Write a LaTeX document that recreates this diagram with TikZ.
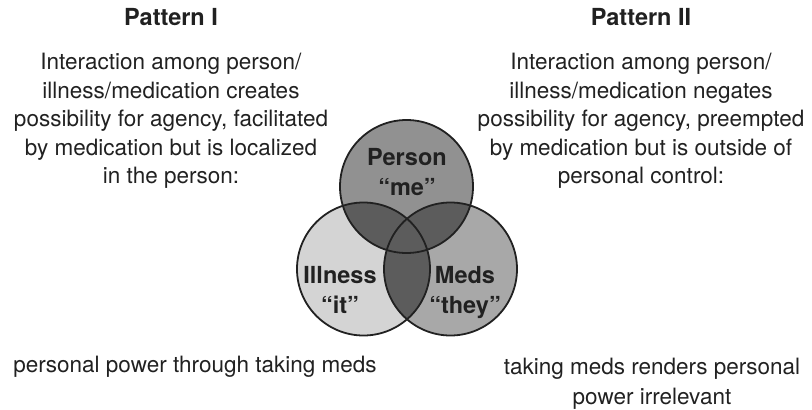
\documentclass[tikz,border=0pt]{standalone}
\usepackage{fontspec}
\setmainfont{TeX Gyre Heros}
\usetikzlibrary{positioning}
\definecolor{personfill}{gray}{0.57}
\definecolor{illnessfill}{gray}{0.83}
\definecolor{medsfill}{gray}{0.66}
\definecolor{overlapfill}{gray}{0.36}
\definecolor{inkcol}{gray}{0.13}
\newcommand{\vennr}{66.5pt}
\tikzset{title text/.style={inner sep=0pt,text=inkcol,font=\fontsize{23.5}{29}\selectfont\bfseries},
  body text/.style={inner sep=0pt,align=center,text=inkcol,font=\fontsize{22.5}{28.5}\selectfont},
  label text/.style={inner sep=0pt,align=center,text=inkcol,font=\fontsize{23.5}{30}\selectfont\bfseries},
  venn line/.style={draw=inkcol,line width=1.8pt} }

\begin{document}
\begin{tikzpicture}[x=1pt,y=-1pt]
\useasboundingbox (0,0) rectangle (812,410);

  \node[title text] (titleI) at (171,17.5) {Pattern I};
  \node[title text] (titleII) at (641,17.5) {Pattern II};

  \node[body text,anchor=north] (textI) [below = 27pt of titleI] {Interaction among person/\\illness/medication creates\\possibility for agency, facilitated\\by medication but is localized\\in the person:};
  \node[body text,anchor=north] (textII) [below = 27pt of titleII] {Interaction among person/\\illness/medication negates\\possibility for agency, preempted\\by medication but is outside of\\personal control:};

  % venn centres
  \coordinate (person) at (406.5,186.5);
  \coordinate[below left = 82.5pt and 43pt of person] (illness);
  \coordinate[below right = 82.5pt and 44pt of person] (meds);

  \fill[personfill] (person) circle (\vennr);
  \fill[illnessfill] (illness) circle (\vennr);
  \fill[medsfill] (meds) circle (\vennr);
  \begin{scope}
    \clip (person) circle (\vennr);
    \fill[overlapfill] (illness) circle (\vennr);
    \fill[overlapfill] (meds) circle (\vennr);
  \end{scope}
  \begin{scope}
    \clip (illness) circle (\vennr);
    \fill[overlapfill] (meds) circle (\vennr);
  \end{scope}
  \foreach \c in {person,illness,meds}
    \draw[venn line] (\c) circle (\vennr);

  \node[label text] (personlbl) at (407,172.5) {Person\\“me”};
  \node[label text] (illnesslbl) at (340,290) {Illness\\“it”};
  \node[label text] (medslbl) at (465,292.5) {Meds\\“they”};

  \node[body text] (bottomI) at (195,367) {personal power through taking meds};
  \node[body text,anchor=north,font=\fontsize{22.5}{30}\selectfont] (bottomII) at (652,357.5) {taking meds renders personal\\power irrelevant};
\end{tikzpicture}
\end{document}
